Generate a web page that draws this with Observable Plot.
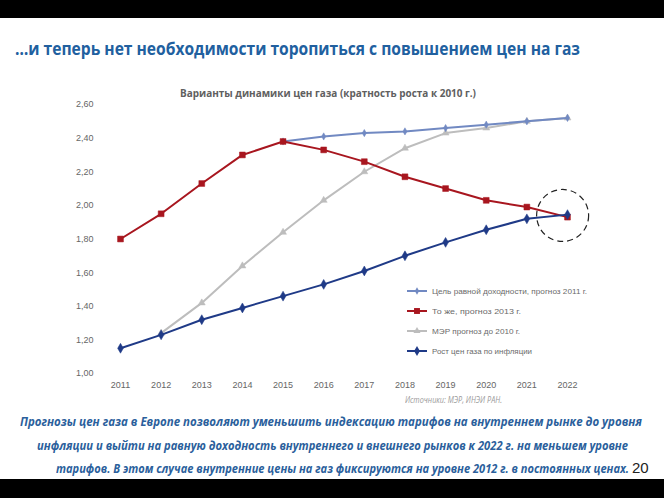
<!DOCTYPE html>
<html><head><meta charset="utf-8">
<script src="https://cdn.jsdelivr.net/npm/d3@7"></script>
<script src="https://cdn.jsdelivr.net/npm/@observablehq/plot@0.6"></script>
<style>
html,body{margin:0;padding:0;background:#fff;}
#page{position:relative;width:664px;height:498px;overflow:hidden;background:#fff;font-family:"Open Sans","Noto Sans",sans-serif;}
.bar{position:absolute;left:0;width:664px;background:#000;}
.t{position:absolute;white-space:nowrap;transform-origin:0 50%;}
#chart{position:absolute;left:0;top:95px;}
.lg{position:absolute;left:406px;height:12px;display:flex;align-items:center;}
.lg span{font-family:"Liberation Sans",sans-serif;font-size:8px;color:#6a6a6a;white-space:nowrap;display:inline-block;transform-origin:0 50%;margin-left:4px;}
</style></head>
<body><div id="page">
<div class="bar" style="top:0;height:18px"></div>
<div class="bar" style="top:479px;height:19px"></div>
<div class="t" data-w="565" style="left:15px;top:37px;font-size:18px;line-height:22px;font-weight:700;color:#21609f;">…и теперь нет необходимости торопиться с повышением цен на газ</div>
<div class="t" data-w="296" style="left:180px;top:86px;font-size:11px;line-height:14px;font-weight:700;color:#606060;">Варианты динамики цен газа (кратность роста к 2010 г.)</div>
<div class="t" data-w="97" style="left:405px;top:394px;font-size:9px;line-height:12px;font-style:italic;color:#9a9a9a;">Источники: МЭР, ИНЭИ РАН.</div>
<div class="t" data-w="622" style="left:20px;top:412px;font-size:13px;line-height:18px;font-weight:700;font-style:italic;color:#2b5f9c;">Прогнозы цен газа в Европе позволяют уменьшить индексацию тарифов на внутреннем рынке до уровня</div>
<div class="t" data-w="591" style="left:37px;top:436px;font-size:13px;line-height:18px;font-weight:700;font-style:italic;color:#2b5f9c;">инфляции и выйти на равную доходность внутреннего и внешнего рынков к 2022 г. на меньшем уровне</div>
<div class="t" data-w="573" style="left:56px;top:459px;font-size:13px;line-height:18px;font-weight:700;font-style:italic;color:#2b5f9c;">тарифов. В этом случае внутренние цены на газ фиксируются на уровне 2012 г. в постоянных ценах.</div>
<div class="t" style="left:632px;top:459px;font-size:15px;line-height:18px;color:#222;font-family:'Liberation Sans',sans-serif;">20</div>
<div id="chart"></div>
<div id="legend"></div>
</div>
<script>
const years = [2011,2012,2013,2014,2015,2016,2017,2018,2019,2020,2021,2022];
const targetParity2011 = [null,null,null,null,2.38,2.41,2.43,2.44,2.46,2.48,2.50,2.52];
const sameForecast2013 = [1.80,1.95,2.13,2.30,2.38,2.33,2.26,2.17,2.10,2.03,1.99,1.93];
const merForecast2010 = [null,1.24,1.42,1.64,1.84,2.03,2.20,2.34,2.43,2.46,2.50,2.52];
const inflationGrowth = [1.15,1.23,1.32,1.39,1.46,1.53,1.61,1.70,1.78,1.855,1.92,1.945];
const yTicks = [1.0,1.2,1.4,1.6,1.8,2.0,2.2,2.4,2.6];
const seriesNames = ["Цель равной доходности, прогноз 2011 г.","То же, прогноз 2013 г.","МЭР прогноз до 2010 г.","Рост цен газа по инфляции"];
const highlightYear = [2021.88];
const highlightValue = [1.94];

const seriesDefs = [
  {name: seriesNames[2], values: merForecast2010, color:"#bdbdbd", symbol:"triangle", r:2.6, w:2},
  {name: seriesNames[0], values: targetParity2011, color:"#7189c2", symbol:"diamond", r:2.2, w:2},
  {name: seriesNames[1], values: sameForecast2013, color:"#a8161f", symbol:"square", r:3.3, w:2},
  {name: seriesNames[3], values: inflationGrowth, color:"#1f3a87", symbol:"diamond", r:3, w:2}
];

const marks = [
  Plot.axisY(yTicks, {tickSize:0, tickPadding:27, tickFormat: d => d.toFixed(2).replace(".", ","), fontSize:9, fontFamily:"Liberation Sans", label:null}),
  Plot.axisX(years, {tickSize:0, tickPadding:8, tickFormat: d => String(d), fontSize:9, fontFamily:"Liberation Sans", label:null})
];
for (const s of seriesDefs) {
  const rows = years.map((yr,i)=>({year:yr, value:s.values[i]}));
  const pts = rows.filter(d=>d.value!=null);
  marks.push(Plot.line(pts, {x:"year", y:"value", stroke:s.color, strokeWidth:s.w}));
  marks.push(Plot.dot(pts, {x:"year", y:"value", symbol:s.symbol, r:s.r, fill:s.color, stroke:s.color, strokeWidth:0.5}));
}
marks.push(Plot.dot(highlightYear.map((yr,i)=>({year:yr, value:highlightValue[i]})), {x:"year", y:"value", r:26, fill:"none", stroke:"#222", strokeWidth:1.2, strokeDasharray:"6,4"}));

const chart = Plot.plot({
  width:664, height:300,
  marginLeft:120, marginRight:97, marginTop:9, marginBottom:22,
  x:{domain:[2011,2022], axis:null},
  y:{domain:[1.0,2.6], axis:null},
  style:{color:"#666", background:"transparent", overflow:"visible"},
  marks
});
document.getElementById("chart").appendChild(chart);

// legend
const legendOrder = [1,2,0,3].map(i=>seriesDefs[i]);
const legendTops = [285,305,325,345];
const legendWidths = [155,89,88,100];
const lg = document.getElementById("legend");
legendOrder.forEach((s,i)=>{
  const div = document.createElement("div");
  div.className="lg";
  div.style.top = legendTops[i]+"px";
  const sym = d3.symbol().type(s.symbol==="square"?d3.symbolSquare:s.symbol==="triangle"?d3.symbolTriangle:d3.symbolDiamond).size(s.r*s.r*3.2)();
  div.innerHTML = `<svg width="22" height="12"><line x1="1" x2="21" y1="6" y2="6" stroke="${s.color}" stroke-width="2"/><path transform="translate(11,6)" d="${sym}" fill="${s.color}"/></svg><span data-w="${legendWidths[i]}">${s.name}</span>`;
  lg.appendChild(div);
});

// fit text widths
document.querySelectorAll("[data-w]").forEach(el=>{
  const w = el.getBoundingClientRect().width;
  const target = +el.dataset.w;
  if (w>0) el.style.transform = `scaleX(${target/w})`;
});
</script>
</body></html>
